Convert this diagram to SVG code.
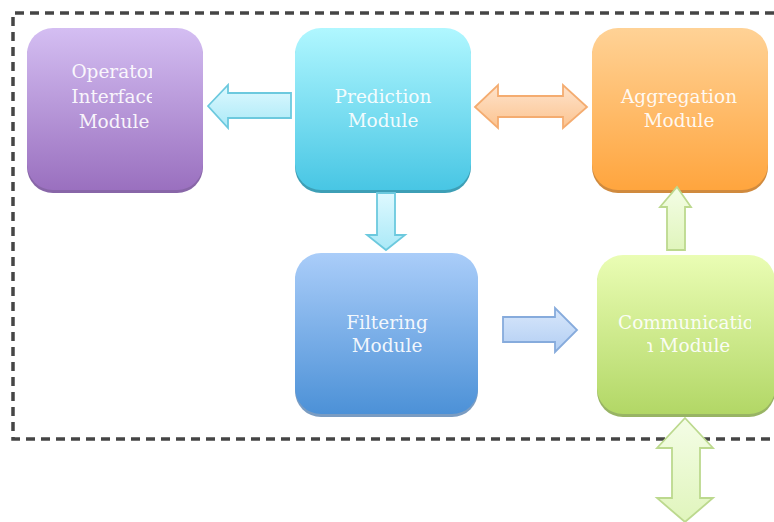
<svg xmlns="http://www.w3.org/2000/svg" width="774" height="522" viewBox="0 0 774 522">
<defs>
<linearGradient id="gOp" x1="0" y1="0" x2="0" y2="1"><stop offset="0" stop-color="#d4bef2"/><stop offset="1" stop-color="#9a70bf"/></linearGradient>
<linearGradient id="gPr" x1="0" y1="0" x2="0" y2="1"><stop offset="0" stop-color="#b0f7ff"/><stop offset="1" stop-color="#48c6e4"/></linearGradient>
<linearGradient id="gAg" x1="0" y1="0" x2="0" y2="1"><stop offset="0" stop-color="#ffd296"/><stop offset="1" stop-color="#ffa53e"/></linearGradient>
<linearGradient id="gFi" x1="0" y1="0" x2="0" y2="1"><stop offset="0" stop-color="#aacdf9"/><stop offset="1" stop-color="#4c91d7"/></linearGradient>
<linearGradient id="gCo" x1="0" y1="0" x2="0" y2="1"><stop offset="0" stop-color="#eafdb4"/><stop offset="1" stop-color="#b2d766"/></linearGradient>
<linearGradient id="aCy" x1="0" y1="0" x2="0" y2="1"><stop offset="0" stop-color="#def9ff"/><stop offset="1" stop-color="#aae9f7"/></linearGradient>
<linearGradient id="aOr" x1="0" y1="0" x2="0" y2="1"><stop offset="0" stop-color="#fee3cc"/><stop offset="1" stop-color="#fcc490"/></linearGradient>
<linearGradient id="aBl" x1="0" y1="0" x2="0" y2="1"><stop offset="0" stop-color="#d8e7fb"/><stop offset="1" stop-color="#b2cef3"/></linearGradient>
<linearGradient id="aGr" x1="0" y1="0" x2="0" y2="1"><stop offset="0" stop-color="#f4fde6"/><stop offset="1" stop-color="#e0f5bc"/></linearGradient>
<clipPath id="cOp"><rect x="50" y="50" width="102" height="90"/></clipPath>
<clipPath id="cCo1"><rect x="600" y="300" width="151" height="32"/></clipPath>
<clipPath id="cCo2"><rect x="647" y="332" width="120" height="30"/></clipPath>
</defs>
<style>
.lbl{font-family:"DejaVu Serif","Liberation Serif",serif;font-size:18.5px;fill:#ffffff;fill-opacity:0.92;text-anchor:middle}
.frame{fill:none;stroke:#454545;stroke-width:3.5;stroke-dasharray:9 6}
</style>
<path class="frame" d="M774 13 H13 V439 H774"/>
<g id="operator">
<rect x="27" y="31" width="176" height="162" rx="26" fill="#8866a8"/>
<rect x="27" y="28" width="176" height="162" rx="26" fill="url(#gOp)"/>
<g clip-path="url(#cOp)">
<text class="lbl" x="114" y="78">Operator</text>
<text class="lbl" x="114" y="103">Interface</text>
<text class="lbl" x="114" y="128">Module</text>
</g>
</g>
<g id="prediction">
<rect x="295" y="31" width="176" height="162" rx="26" fill="#3d9fb6"/>
<rect x="295" y="28" width="176" height="162" rx="26" fill="url(#gPr)"/>
<text class="lbl" x="383" y="103">Prediction</text>
<text class="lbl" x="383" y="127">Module</text>
</g>
<g id="aggregation">
<rect x="592" y="31" width="176" height="162" rx="26" fill="#d08a3e"/>
<rect x="592" y="28" width="176" height="162" rx="26" fill="url(#gAg)"/>
<text class="lbl" x="679" y="103">Aggregation</text>
<text class="lbl" x="679" y="127">Module</text>
</g>
<g id="filtering">
<rect x="295" y="256" width="183" height="161" rx="26" fill="#7a9cc2"/>
<rect x="295" y="253" width="183" height="161" rx="26" fill="url(#gFi)"/>
<text class="lbl" x="387" y="329">Filtering</text>
<text class="lbl" x="387" y="352">Module</text>
</g>
<g id="communication">
<rect x="597" y="258" width="178" height="159" rx="26" fill="#98b464"/>
<rect x="597" y="255" width="178" height="159" rx="26" fill="url(#gCo)"/>
<text class="lbl" x="686" y="329" clip-path="url(#cCo1)">Communicatio</text>
<text class="lbl" x="686" y="352" clip-path="url(#cCo2)">n Module</text>
</g>
<g id="connectors" stroke-width="1.8" stroke-linejoin="miter">
<path d="M208 106 L228 85 V93 H291 V118 H228 V128 Z" fill="url(#aCy)" stroke="#6cc9de"/>
<path d="M475 107 L498 85 V96 H563 V85 L587 107 L563 128 V117 H498 V128 Z" fill="url(#aOr)" stroke="#f4ac70"/>
<path d="M377 193 H395 V235 H405 L386 250 L367 235 H377 Z" fill="url(#aCy)" stroke="#6cc9de"/>
<path d="M503 317 H555 V308 L577 330 L555 352 V342 H503 Z" fill="url(#aBl)" stroke="#86abdc"/>
<path d="M677 187 L691 207 H685 V250 H667 V207 H660 Z" fill="url(#aGr)" stroke="#bcd98e"/>
<path d="M685 418 L713 448 H700 V498 H713 L685 522 L657 498 H672 V448 H657 Z" fill="url(#aGr)" stroke="#bcd98e"/>
</g>
</svg>
